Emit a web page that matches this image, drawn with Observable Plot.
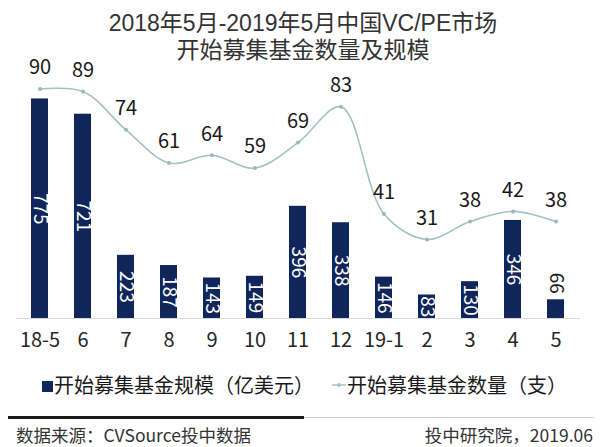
<!DOCTYPE html>
<html><head><meta charset="utf-8">
<script src="https://cdn.jsdelivr.net/npm/d3@7"></script>
<script src="https://cdn.jsdelivr.net/npm/@observablehq/plot@0.6"></script>
<style>
body{margin:0;background:#fff;font-family:"Noto Sans CJK SC","Noto Sans",sans-serif;}
#wrap{position:relative;width:601px;height:447px;overflow:hidden;background:#fff;}
.title{position:absolute;left:0;width:606px;text-align:center;font-family:"Liberation Sans","Noto Sans CJK SC",sans-serif;font-size:23px;line-height:26px;height:26px;color:#333;}
#chart{position:absolute;left:0;top:60px;}
#chart svg{overflow:visible;}
.leg{position:absolute;top:372px;font-size:20px;color:#1a1a1a;white-space:nowrap;line-height:26px;}
.foot{position:absolute;top:423px;font-size:17.5px;color:#333;white-space:nowrap;line-height:24px;}
</style></head>
<body><div id="wrap">
<div class="title" style="top:10px;">2018年5月-2019年5月中国VC/PE市场</div>
<div class="title" style="top:37px;">开始募集基金数量及规模</div>
<div id="chart"></div>
<div class="leg" style="left:42px;"><span style="display:inline-block;width:11px;height:11px;background:#10265a;vertical-align:1px;margin-right:1px;"></span>开始募集基金规模（亿美元）</div>
<div class="leg" style="left:331px;"><svg width="16" height="10" style="vertical-align:3px;"><line x1="1" y1="5" x2="15" y2="5" stroke="#a3c3c1" stroke-width="1.5"/><circle cx="8" cy="5" r="2" fill="#a3c3c1"/></svg>开始募集基金数量（支）</div>
<div style="position:absolute;left:8px;top:416px;width:296px;height:3px;background:#1a1a1a;"></div>
<div style="position:absolute;left:304px;top:417px;width:290px;height:1px;background:#d0d0d0;"></div>
<div class="foot" style="left:16px;">数据来源：CVSource投中数据</div>
<div class="foot" style="right:8px;">投中研究院，2019.06</div>
</div>
<script>
const months = ["18-5","6","7","8","9","10","11","12","19-1","2","3","4","5"];
const fundSize = [775,721,223,187,143,149,396,338,146,83,130,346,66];
const fundCount = [90,89,74,61,64,59,69,83,41,31,38,42,38];

const rows = months.map((m,i)=>({m, size: fundSize[i], count: fundCount[i]}));
const countFactor = 9; // count axis 0–100 shares the height of size axis 0–900
const lineColor = "#a3c3c1";

const chart = Plot.plot({
  width: 601,
  height: 300,
  marginTop: 3,
  marginBottom: 42,
  marginLeft: 16,
  marginRight: 21,
  style: {fontFamily: '"Noto Sans CJK SC","Noto Sans",sans-serif', background: "transparent", overflow: "visible"},
  x: {type: "band", domain: months, paddingInner: 0.6, paddingOuter: 0.3, label: null},
  y: {domain: [0, 900], axis: null},
  marks: [
    Plot.barY(rows, {x: "m", y: "size", fill: "#10265a"}),
    Plot.ruleY([0], {stroke: "#d9d9d9", strokeWidth: 1.2}),
    Plot.text(rows, {
      x: "m",
      y: d => d.size < 80 ? d.size + 58 : d.size / 2,
      text: d => String(d.size),
      rotate: 90,
      fill: d => d.size < 80 ? "#1a1a1a" : "#ffffff",
      fontSize: 19,
      textAnchor: "middle"
    }),
    Plot.line(rows, {x: "m", y: d => d.count * countFactor, stroke: lineColor, strokeWidth: 1.6, curve: "catmull-rom"}),
    Plot.dot(rows, {x: "m", y: d => d.count * countFactor, r: 2, fill: "#9bb9b7"}),
    Plot.text(rows, {x: "m", y: d => d.count * countFactor, text: d => String(d.count), dy: -21, fontSize: 20, fill: "#1a1a1a"}),
    Plot.axisX({tickSize: 0, tickPadding: 14, fontSize: 20, color: "#262626", label: null})
  ]
});
document.getElementById("chart").appendChild(chart);
</script>
</body></html>
